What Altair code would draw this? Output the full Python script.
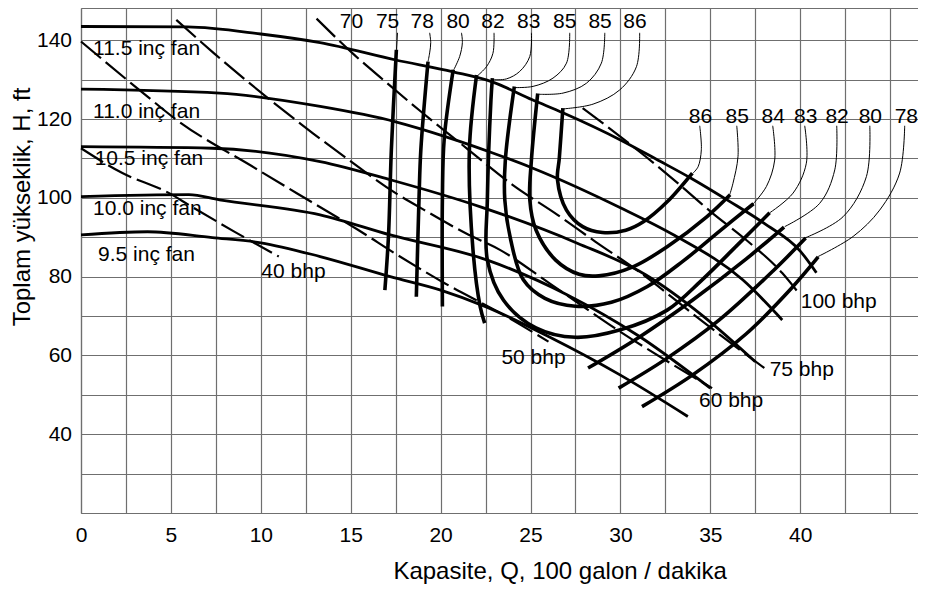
import altair as alt
import pandas as pd

FONT = "Liberation Sans"

# ---------------- impeller (fan) curves : (Q [100 gal/min], H [ft])
fan_115 = [(0, 143.5), (5.9, 143.4), (10, 141.6), (13.3, 139.4), (17.5, 135.0), (20.7, 132.0),
           (22.9, 129.4), (25.1, 124.9), (26.8, 121.6), (30, 114.7), (32, 109.8), (34, 104.8),
           (36, 99.3), (38, 93.5), (40, 86.5), (40.9, 81.0)]
fan_110 = [(0, 127.6), (7.7, 126.6), (13.3, 123.2), (17.5, 119.3), (20.3, 115.5), (22.9, 111.4),
           (25.1, 107.6), (30, 97.5), (33, 90.5), (36.8, 79.2), (39, 69.0)]
fan_105 = [(0, 113.0), (7.3, 112.6), (13.3, 109.2), (17.2, 104.6), (22.3, 97.6), (27.6, 88.5),
           (31.4, 80.5), (34.6, 70.0), (37.5, 58.4)]
fan_100 = [(0, 100.3), (6, 100.8), (7.7, 99.5), (13.3, 95.7), (17.2, 90.6), (22.6, 84.2),
           (27, 75.5), (31, 65.0), (35, 51.7)]
fan_95 = [(0, 90.6), (3.7, 91.4), (7.3, 89.9), (10, 88.6), (13.3, 85.1), (17.2, 80.0), (20, 76.6),
          (22.5, 72.4), (26, 64.8), (30, 55.0), (33.75, 44.5)]

# ---------------- efficiency contours
eff_75 = [(17.54, 137.6), (17.26, 112.2), (17.1, 90.2), (16.9, 76.6)]
eff_78 = [(19.3, 134.6), (18.9, 112.2), (18.8, 100.0), (18.65, 74.9)]
eff_80 = [(20.7, 132.5), (20.2, 115.0), (20.1, 100.0), (20.1, 72.4)]
eff_82 = [(22.0, 131.2), (21.6, 112.2), (21.8, 86.8), (22.2, 72.4), (22.45, 68.2)]
eff_83 = [(22.88, 130.4), (22.8, 124.9), (22.6, 99.5), (22.6, 84.2), (23.5, 74.0), (25.3, 67.0),
          (27.5, 64.6), (30, 66.5), (32.6, 71.5), (34.5, 79.0), (36.5, 88.0), (38.3, 96.2)]
eff_84 = [(24.1, 128.3), (23.6, 109.6), (23.57, 99.5), (23.9, 89.3), (24.6, 79.2), (25.8, 74.5),
          (27.5, 72.5), (29.5, 73.5), (31.5, 77.5), (33.5, 84.0), (35.5, 91.5), (37.4, 98.5)]
eff_85 = [(25.4, 126.5), (25.05, 109.6), (24.96, 99.5), (25.3, 91.9), (26.4, 84.2), (27.7, 80.6),
          (28.8, 80.2), (30.7, 82.5), (32.6, 87.6), (34.8, 95.2), (36.1, 100.8)]
eff_86 = [(26.8, 122.8), (26.6, 110.0), (26.5, 104.6), (27.0, 96.9), (27.9, 92.7), (29.0, 91.2),
          (30.3, 91.8), (31.3, 94.0), (32.6, 99.0), (34.0, 106.3)]
eff_82r = [(28.2, 56.8), (31, 64.5), (34, 74.0), (37, 84.5), (39.1, 92.6)]
eff_80r = [(29.9, 51.7), (32.5, 59.0), (35.5, 69.0), (38.5, 81.5), (40.3, 89.8)]
eff_78r = [(31.2, 47.0), (34, 55.0), (37, 65.5), (39.5, 77.0), (41.0, 85.0)]

# ---------------- brake horsepower lines (dashed)
bhp_40 = [(0, 112.6), (2.3, 106.3), (4.9, 101.2), (6, 98.2), (8.5, 91.5), (11, 85.1)]
bhp_50 = [(0, 139.7), (3.7, 125.7), (5.2, 120.2), (9.7, 107.5), (12.8, 99.0), (15.4, 91.9),
          (17.6, 85.5), (20.2, 78.4), (23.3, 70.8), (26, 63.5)]
bhp_60 = [(5.3, 145.2), (7.4, 136.7), (12.9, 116.4), (14.9, 109.6), (17.5, 101.2), (19.1, 96.9),
          (21.4, 91.0), (23.3, 86.8), (26, 78.5), (30, 66.0), (35.1, 51.7)]
bhp_75 = [(13.1, 145.5), (15.2, 136.3), (16.8, 130.0), (18.8, 122.3), (21.5, 112.4), (24, 103.3),
          (26.5, 95.7), (28.6, 88.9), (30.9, 81.7), (34.6, 68.5), (38, 56.8)]
bhp_100 = [(27.9, 122.8), (31.4, 110.5), (33.3, 103.3), (35.1, 96.2), (37, 89.3), (39, 80.9),
           (39.8, 76.5)]

# ---------------- leader lines from efficiency labels
lead_top_75 = [(17.6, 141.9), (17.55, 137.6)]
lead_top_78 = [(19.39, 141.9), (19.45, 139.4), (19.39, 136.8), (19.3, 134.6)]
lead_top_80 = [(21.16, 141.9), (21.21, 139.4), (21.06, 135.9), (20.73, 132.5)]
lead_top_82 = [(22.97, 141.9), (22.91, 136.7), (22.55, 133.3), (22.05, 131.0)]
lead_top_83 = [(25.05, 141.9), (24.96, 135.9), (24.4, 132.1), (23.66, 130.2), (22.91, 130.0)]
lead_top_85a = [(27.18, 141.9), (27.0, 134.2), (26.25, 130.4), (25.14, 128.3), (24.15, 128.0)]
lead_top_85b = [(29.13, 141.9), (28.94, 134.2), (28.11, 129.1), (26.81, 126.6), (25.45, 126.3)]
lead_top_86 = [(31.07, 141.9), (30.89, 133.3), (29.96, 127.4), (28.48, 123.8), (26.85, 122.6)]
lead_r_86 = [(34.41, 118.3), (34.5, 112.2), (34.32, 107.9), (34.04, 106.3)]
lead_r_85 = [(36.47, 118.3), (36.54, 110.5), (36.26, 103.7), (36.08, 100.8)]
lead_r_84 = [(38.47, 118.3), (38.58, 109.6), (38.12, 102.9), (37.37, 98.4)]
lead_r_83 = [(40.25, 118.3), (40.34, 108.8), (39.6, 101.2), (38.3, 96.2)]
lead_r_82 = [(42.03, 118.3), (41.92, 107.1), (41.08, 98.6), (39.14, 92.7)]
lead_r_80 = [(43.87, 118.3), (43.68, 105.4), (42.38, 95.2), (40.25, 89.8)]
lead_r_78 = [(45.81, 118.3), (45.53, 106.3), (44.42, 96.9), (42.94, 90.2), (40.99, 85.1)]

# ---------------- text labels
fan_labels = ["11.5 inç fan", "11.0 inç fan", "10.5 inç fan", "10.0 inç fan", "9.5 inç fan"]
fan_label_q = [0.67, 0.67, 0.76, 0.67, 0.95]
fan_label_h = [137.8, 121.7, 109.9, 97.2, 85.5]

bhp_labels = ["40 bhp", "50 bhp", "60 bhp", "75 bhp", "100 bhp"]
bhp_label_q = [10.03, 23.38, 34.37, 38.3, 40.03]
bhp_label_h = [81.3, 59.4, 48.4, 56.3, 73.6]

top_eff_labels = ["70", "75", "78", "80", "82", "83", "85", "85", "86"]
top_eff_q = [15.04, 17.05, 18.98, 20.97, 22.91, 24.9, 26.9, 28.87, 30.81]
top_eff_h = 144.6

right_eff_labels = ["86", "85", "84", "83", "82", "80", "78"]
right_eff_q = [34.45, 36.5, 38.5, 40.3, 42.05, 43.9, 45.9]
right_eff_h = 120.6

X_MAX = 46.55
Y_MIN, Y_MAX = 20, 148.2
x_grid_values = [0, 2.5, 5, 7.5, 10, 12.5, 15, 17.5, 20, 22.5, 25, 27.5, 30, 32.5, 35, 37.5, 40, 42.5, 45]
y_grid_values = [20, 30, 40, 50, 60, 70, 80, 90, 100, 110, 120, 130, 140, Y_MAX]

# ---------------- build tables
rows = []


def add(kind, name, pts):
    for i, (q, h) in enumerate(pts):
        rows.append({"kind": kind, "name": name, "i": i, "q": q, "h": h})


for nm, pts in [("f115", fan_115), ("f110", fan_110), ("f105", fan_105), ("f100", fan_100), ("f95", fan_95)]:
    add("fan", nm, pts)
for nm, pts in [("e75", eff_75), ("e78", eff_78), ("e80", eff_80), ("e82", eff_82), ("e83", eff_83),
                ("e84", eff_84), ("e85", eff_85), ("e86", eff_86), ("e82r", eff_82r),
                ("e80r", eff_80r), ("e78r", eff_78r)]:
    add("eff", nm, pts)
for nm, pts in [("b40", bhp_40), ("b50", bhp_50), ("b60", bhp_60), ("b75", bhp_75), ("b100", bhp_100)]:
    add("bhp", nm, pts)
for nm, pts in [("t75", lead_top_75), ("t78", lead_top_78), ("t80", lead_top_80), ("t82", lead_top_82),
                ("t83", lead_top_83), ("t85a", lead_top_85a), ("t85b", lead_top_85b), ("t86", lead_top_86),
                ("r86", lead_r_86), ("r85", lead_r_85), ("r84", lead_r_84), ("r83", lead_r_83),
                ("r82", lead_r_82), ("r80", lead_r_80), ("r78", lead_r_78)]:
    add("lead", nm, pts)

lines_df = pd.DataFrame(rows)

fan_txt = pd.DataFrame({"q": fan_label_q, "h": fan_label_h, "label": fan_labels})
bhp_txt = pd.DataFrame({"q": bhp_label_q, "h": bhp_label_h, "label": bhp_labels})
top_txt = pd.DataFrame({"q": top_eff_q, "h": [top_eff_h] * len(top_eff_q), "label": top_eff_labels})
right_txt = pd.DataFrame({"q": right_eff_q, "h": [right_eff_h] * len(right_eff_q), "label": right_eff_labels})

x_enc = alt.X(
    "q:Q",
    scale=alt.Scale(domain=[0, X_MAX], nice=False, zero=False),
    title="Kapasite, Q, 100 galon / dakika",
    axis=alt.Axis(
        values=x_grid_values,
        labelExpr="datum.value % 5 == 0 && datum.value <= 40 ? format(datum.value, 'd') : ''",
        labelBaseline="alphabetic",
        labelPadding=28,
        labelAlign="center",
        titleX=478.7,
        titleY=65,
        titleAlign="center",
        titleBaseline="alphabetic",
    ),
)
y_enc = alt.Y(
    "h:Q",
    scale=alt.Scale(domain=[Y_MIN, Y_MAX], nice=False, zero=False),
    title="Toplam yükseklik, H, ft",
    axis=alt.Axis(
        values=y_grid_values,
        labelExpr="datum.value % 20 == 0 && datum.value >= 40 && datum.value <= 140 ? format(datum.value, 'd') : ''",
        labelPadding=9.5,
        labelBaseline="middle",
        titleAngle=270,
        titleX=-59,
        titleY=198.5,
        titleAlign="center",
        titleBaseline="middle",
    ),
)

base = alt.Chart(lines_df).encode(x=x_enc, y=y_enc, detail="name:N", order="i:Q")

bhp_layer = base.transform_filter(alt.datum.kind == "bhp").mark_line(
    color="black", strokeWidth=2.2, strokeDash=[26, 6], interpolate="monotone")
fan_layer = base.transform_filter(alt.datum.kind == "fan").mark_line(
    color="black", strokeWidth=2.8, interpolate="monotone")
eff_layer = base.transform_filter(alt.datum.kind == "eff").mark_line(
    color="black", strokeWidth=3.6, interpolate="catmull-rom")
lead_layer = base.transform_filter(alt.datum.kind == "lead").mark_line(
    color="black", strokeWidth=1, interpolate="catmull-rom")


def text_layer(df, align):
    return alt.Chart(df).mark_text(
        font=FONT, fontSize=21, color="black", align=align, baseline="middle"
    ).encode(x=x_enc, y=y_enc, text="label:N")


chart = alt.layer(
    bhp_layer, fan_layer, eff_layer, lead_layer,
    text_layer(fan_txt, "left"), text_layer(bhp_txt, "left"),
    text_layer(top_txt, "center"), text_layer(right_txt, "center"),
).properties(
    width=837,
    height=505,
    autosize=alt.AutoSizeParams(type="none"),
    padding={"left": 73, "top": 0, "right": 0, "bottom": 75},
    background="white",
).configure_axis(
    grid=True,
    gridColor="#6f6f6f",
    gridWidth=1.2,
    gridOpacity=1,
    domainColor="#6f6f6f",
    domainWidth=1.2,
    ticks=False,
    labelFont=FONT,
    labelFontSize=21,
    labelColor="black",
    titleFont=FONT,
    titleFontSize=24,
    titleFontWeight="normal",
    titleColor="black",
).configure_view(stroke=None)

chart.save("out.html", embed_options={"renderer": "svg", "actions": False})
